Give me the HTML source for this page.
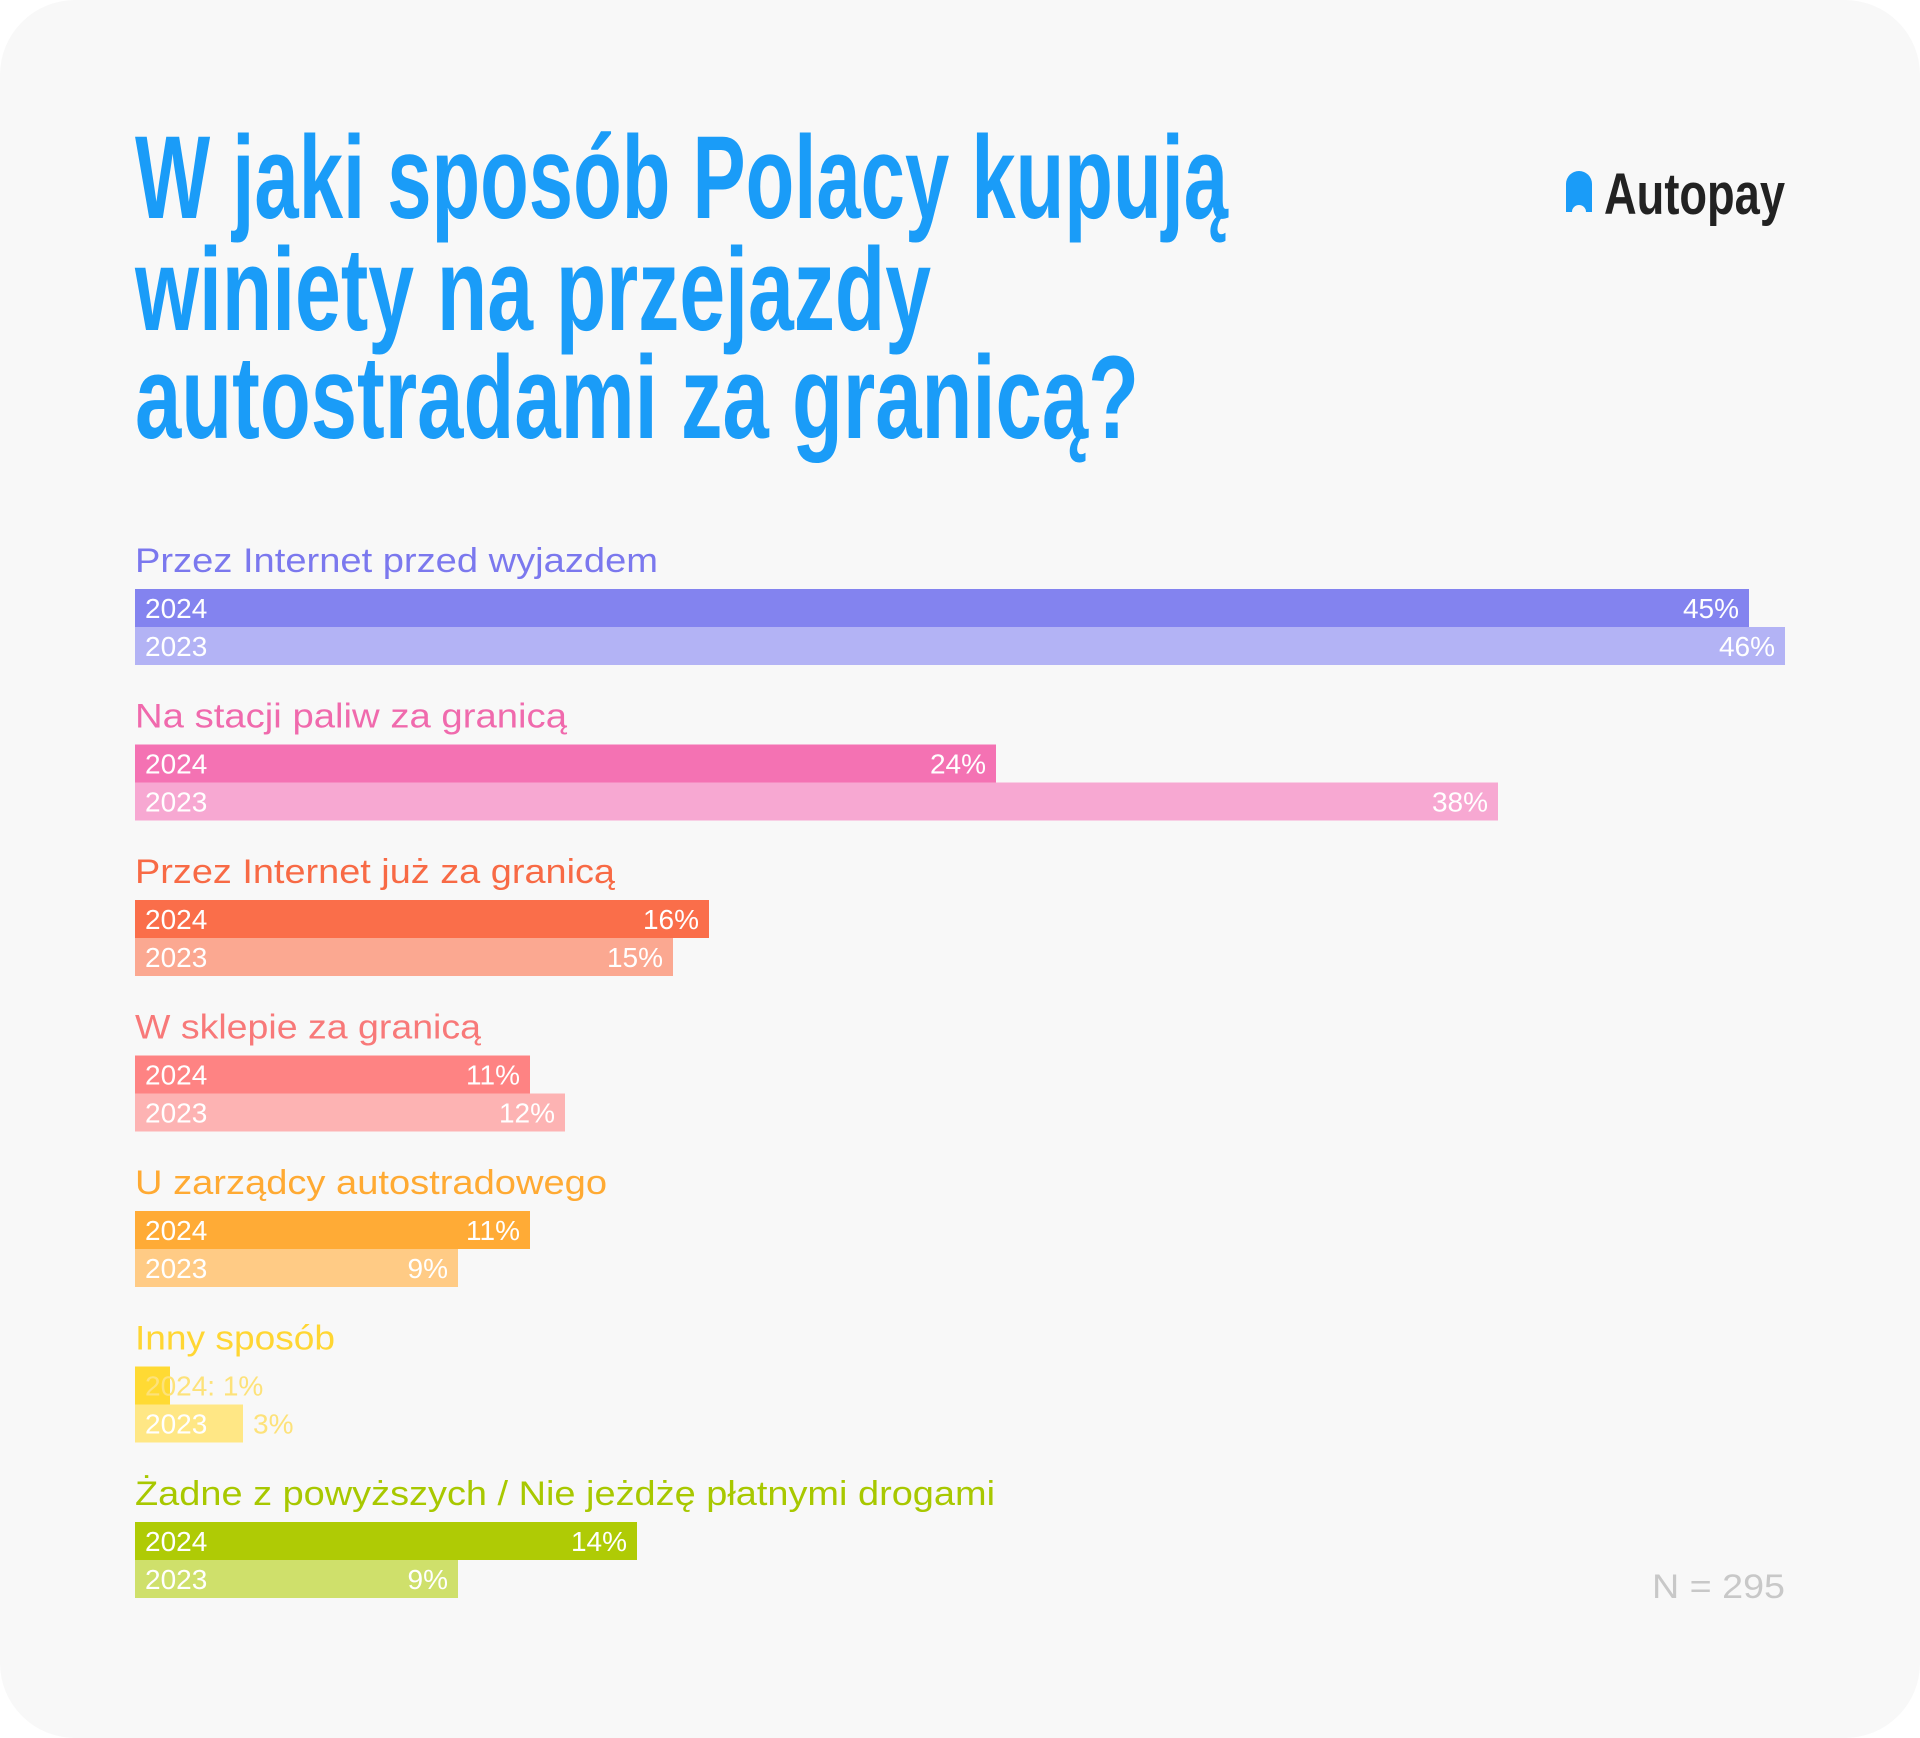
<!DOCTYPE html>
<html><head><meta charset="utf-8"><style>
html,body{margin:0;padding:0;background:#fff;}
svg{display:block;}
</style></head><body>
<svg width="1920" height="1738" viewBox="0 0 1920 1738" xmlns="http://www.w3.org/2000/svg" font-family="'Liberation Sans', sans-serif">
<rect x="0" y="0" width="1920" height="1738" rx="75" fill="#f8f8f8"/>
<g font-weight="bold" fill="#1a9cf8" font-size="118">
<text x="135" y="218" textLength="1093" lengthAdjust="spacingAndGlyphs">W jaki sposób Polacy kupują</text>
<text x="135" y="330" textLength="796" lengthAdjust="spacingAndGlyphs">winiety na przejazdy</text>
<text x="135" y="438" textLength="1004" lengthAdjust="spacingAndGlyphs">autostradami za granicą?</text>
</g>
<path d="M1566 212 V184 a13 13 0 0 1 26 0 V212 h-6 a7 7 0 0 0 -14 0 z" fill="#1a9cf8"/>
<text x="1604" y="214" font-size="58" font-weight="bold" fill="#222" textLength="181" lengthAdjust="spacingAndGlyphs">Autopay</text>
<g font-size="34">
<text x="135" y="572" fill="#7b78ee" textLength="523" lengthAdjust="spacingAndGlyphs">Przez Internet przed wyjazdem</text>
<text x="135" y="727.5" fill="#f06aad" textLength="432" lengthAdjust="spacingAndGlyphs">Na stacji paliw za granicą</text>
<text x="135" y="883" fill="#f86a45" textLength="480" lengthAdjust="spacingAndGlyphs">Przez Internet już za granicą</text>
<text x="135" y="1038.5" fill="#f87979" textLength="346" lengthAdjust="spacingAndGlyphs">W sklepie za granicą</text>
<text x="135" y="1194" fill="#ffaa33" textLength="472" lengthAdjust="spacingAndGlyphs">U zarządcy autostradowego</text>
<text x="135" y="1349.5" fill="#ffd633" textLength="200" lengthAdjust="spacingAndGlyphs">Inny sposób</text>
<text x="135" y="1505" fill="#a8c800" textLength="860" lengthAdjust="spacingAndGlyphs">Żadne z powyższych / Nie jeżdżę płatnymi drogami</text>
<text x="1652" y="1598" fill="#c8c8c8" textLength="133" lengthAdjust="spacingAndGlyphs">N = 295</text>
</g>
<g>
<rect x="135" y="589" width="1614" height="38" fill="#8383ef"/>
<rect x="135" y="627" width="1650" height="38" fill="#b3b3f5"/>
<rect x="135" y="744.5" width="861" height="38" fill="#f472b3"/>
<rect x="135" y="782.5" width="1363" height="38" fill="#f7a8d2"/>
<rect x="135" y="900" width="574" height="38" fill="#fa6e4a"/>
<rect x="135" y="938" width="538" height="38" fill="#fba891"/>
<rect x="135" y="1055.5" width="395" height="38" fill="#fe8383"/>
<rect x="135" y="1093.5" width="430" height="38" fill="#fdb3b3"/>
<rect x="135" y="1211" width="395" height="38" fill="#ffab36"/>
<rect x="135" y="1249" width="323" height="38" fill="#ffcb85"/>
<rect x="135" y="1366.5" width="35" height="38" fill="#ffda33"/>
<rect x="135" y="1404.5" width="108" height="38" fill="#ffe785"/>
<rect x="135" y="1522" width="502" height="38" fill="#afcb05"/>
<rect x="135" y="1560" width="323" height="38" fill="#cfe06b"/>
</g>
<g font-size="28" fill="#fff">
<text x="145" y="618">2024</text><text x="1739" y="618" text-anchor="end">45%</text>
<text x="145" y="656">2023</text><text x="1775" y="656" text-anchor="end">46%</text>
<text x="145" y="773.5">2024</text><text x="986" y="773.5" text-anchor="end">24%</text>
<text x="145" y="811.5">2023</text><text x="1488" y="811.5" text-anchor="end">38%</text>
<text x="145" y="929">2024</text><text x="699" y="929" text-anchor="end">16%</text>
<text x="145" y="967">2023</text><text x="663" y="967" text-anchor="end">15%</text>
<text x="145" y="1084.5">2024</text><text x="520" y="1084.5" text-anchor="end">11%</text>
<text x="145" y="1122.5">2023</text><text x="555" y="1122.5" text-anchor="end">12%</text>
<text x="145" y="1240">2024</text><text x="520" y="1240" text-anchor="end">11%</text>
<text x="145" y="1278">2023</text><text x="448" y="1278" text-anchor="end">9%</text>
<text x="145" y="1395.5" fill="#fde27a">2024: 1%</text>
<text x="145" y="1433.5">2023</text><text x="253" y="1433.5" fill="#fde27a">3%</text>
<text x="145" y="1551">2024</text><text x="627" y="1551" text-anchor="end">14%</text>
<text x="145" y="1589">2023</text><text x="448" y="1589" text-anchor="end">9%</text>
</g>
</svg>
</body></html>
